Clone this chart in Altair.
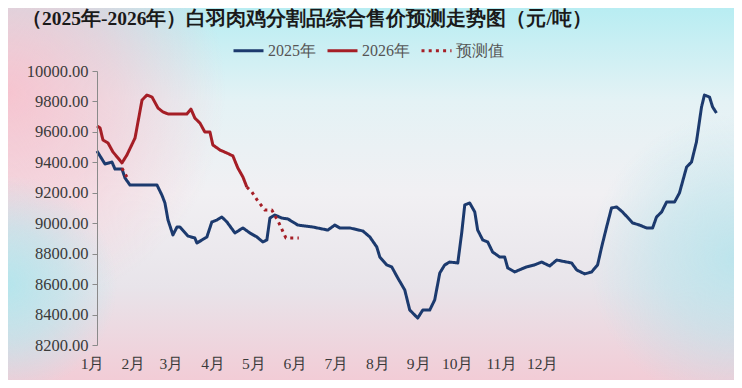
import altair as alt
import pandas as pd

# ---------------- data ----------------
days_2025 = [0, 4.7, 8.8, 10.6, 14.7, 16.5, 19.4, 35.3, 38.2, 40, 41.8, 44.7, 47.1, 48.8,
             53.5, 57.6, 58.8, 61.8, 64.7, 67.6, 70.6, 73.5, 76.5, 81.2, 85.9, 90, 94.1,
             97.6, 100, 101.8, 104.7, 108.8, 112.4, 118.2, 127.1, 135.9, 140, 142.9, 148.8,
             156.5, 160.6, 164.7, 166.5, 170.6, 173.5, 177.1, 181.2, 184.1, 188.8, 191.8,
             195.9, 198.8, 201.8, 204.7, 207.6, 212.4, 214.7, 216.5, 219.4, 222.4, 224.1,
             227.1, 230, 232.9, 237.1, 240, 241.8, 245.9, 250, 252.9, 257.6, 261.8, 266.5,
             270.6, 279.4, 282.4, 287.1, 291.2, 294.7, 297.1, 300, 302.9, 305.9, 309.4,
             315.3, 319.4, 323.5, 327.1, 329.4, 332.4, 335.3, 340, 342.9, 347.1, 350, 352.9,
             355.9, 357.6, 360.6, 362.4, 364.7]
vals_2025 = [9474, 9389, 9402, 9356, 9356, 9297, 9251, 9251, 9185, 9133, 9021, 8923, 8975, 8975,
             8916, 8903, 8870, 8890, 8910, 9008, 9021, 9041, 9008, 8936, 8969, 8936, 8910,
             8877, 8890, 9034, 9054, 9034, 9028, 8988, 8975, 8955, 8988, 8969, 8969,
             8949, 8910, 8844, 8778, 8726, 8713, 8640, 8561, 8430, 8377, 8430,
             8430, 8496, 8673, 8726, 8745, 8739, 8936, 9120, 9133, 9074, 8955,
             8890, 8877, 8811, 8778, 8778, 8706, 8680, 8700, 8713, 8726, 8745, 8719,
             8758, 8739, 8693, 8667, 8680, 8726, 8844, 8975, 9100, 9107, 9074,
             9002, 8988, 8969, 8969, 9041, 9074, 9139, 9139, 9199, 9369, 9402, 9534,
             9764, 9842, 9829, 9764, 9724]

days_2026 = [0, 1.8, 3.5, 6.5, 9.4, 12.4, 14.7, 17.6, 22.4, 26.5, 29.4, 32.4, 35.9, 38.8,
             41.8, 52.9, 55.3, 57.6, 60.6, 63.5, 66.5, 68.2, 72.4, 76.5, 80, 82.9, 85.9, 88.2]
vals_2026 = [9639, 9626, 9547, 9527, 9468, 9428, 9396, 9448, 9560, 9809, 9842, 9829, 9757, 9731,
             9718, 9718, 9750, 9691, 9658, 9599, 9599, 9514, 9481, 9461, 9442, 9363, 9304, 9238]

days_fc = [14.7, 17.6, 88.2, 91.2, 94.7, 98.8, 102.9, 107.1, 111.2, 118.8]
vals_fc = [9362, 9304, 9238, 9205, 9146, 9087, 9087, 9002, 8903, 8903]
segs_fc = ["fa", "fa", "fb", "fb", "fb", "fb", "fb", "fb", "fb", "fb"]

series_names = ["2025年", "2026年", "预测值"]
series_colors = ["#1c3a6e", "#a51e26", "#a51e26"]
series_dashes = [[1, 0], [1, 0], [3, 4.2]]

month_labels = ["1月", "2月", "3月", "4月", "5月", "6月", "7月", "8月", "9月", "10月", "11月", "12月"]
month_pos = [0, 24, 46.5, 71, 95, 119.5, 143.5, 168, 192, 215, 241, 265]
y_ticks = [8200, 8400, 8600, 8800, 9000, 9200, 9400, 9600, 9800, 10000]

title_text = "（2025年-2026年）白羽肉鸡分割品综合售价预测走势图（元/吨）"

# ---------------- build table ----------------
rows = []
for d, v in zip(days_2025, vals_2025):
    rows.append({"day": d, "price": v, "series": series_names[0], "seg": "a"})
for d, v in zip(days_2026, vals_2026):
    rows.append({"day": d, "price": v, "series": series_names[1], "seg": "b"})
for d, v, s in zip(days_fc, vals_fc, segs_fc):
    rows.append({"day": d, "price": v, "series": series_names[2], "seg": s})
df = pd.DataFrame(rows)

W, H = 620, 274
PL, PT, PR, PB = 89, 63, 17, 35
SERIF = "Liberation Serif"

bg_df = pd.DataFrame({"k": [0]})


def bg_layer(fill, opacity=1.0):
    return alt.Chart(bg_df).mark_rect(fill=fill, opacity=opacity, strokeWidth=0).encode(
        x=alt.value(-PL), x2=alt.value(W + PR), y=alt.value(-PT), y2=alt.value(H + PB)
    )


def radial(cx, cy, r, rgb, a):
    # radial gradients are laid on a square of side = rect width, centred vertically
    return bg_layer(alt.RadialGradient(
        gradient="radial", x1=cx, y1=cy, r1=0, x2=cx, y2=cy, r2=r,
        stops=[alt.GradientStop(color="rgba(%s,%s)" % (rgb, a), offset=0),
               alt.GradientStop(color="rgba(%s,%s)" % (rgb, round(a * 0.6, 3)), offset=0.5),
               alt.GradientStop(color="rgba(%s,0)" % rgb, offset=1)]))


base_bg = bg_layer(alt.LinearGradient(
    gradient="linear", x1=0, y1=0, x2=0, y2=1,
    stops=[alt.GradientStop(color="#b8edf2", offset=0),
           alt.GradientStop(color="#e4f2f5", offset=0.25),
           alt.GradientStop(color="#f1f0f3", offset=0.5),
           alt.GradientStop(color="#e8e4ea", offset=0.75),
           alt.GradientStop(color="#f2ccd6", offset=1)]))

pink_top_left = radial(0.0, 0.36, 0.3, "247,194,206", 0.95)
cyan_low_left = radial(0.0, 0.625, 0.15, "182,229,236", 1.0)
cyan_low_right = radial(1.0, 0.59, 0.2, "184,228,236", 0.9)

lines = alt.Chart(df).mark_line(strokeWidth=3, strokeJoin="round").encode(
    x=alt.X("day:Q",
            scale=alt.Scale(domain=[0, 365], nice=False, zero=False),
            axis=alt.Axis(values=month_pos,
                          labelExpr="[" + ",".join("'" + m + "'" for m in month_labels) + "]"
                                    "[indexof([" + ",".join(str(p) for p in month_pos) + "], datum.value)]",
                          domain=False, ticks=False, grid=False, title=None, zindex=1,
                          translate=-4.5, labelAlign="center", labelPadding=16,
                          labelFont=SERIF, labelFontSize=15.5, labelColor="#3a3a3a",
                          labelFlush=False)),
    y=alt.Y("price:Q",
            scale=alt.Scale(domain=[8200, 10000], nice=False, zero=False),
            axis=alt.Axis(values=y_ticks, format=".2f", grid=False, title=None, zindex=1,
                          domainColor="#8a8a8a", tickColor="#8a8a8a", tickSize=5,
                          labelPadding=4, labelFont=SERIF, labelFontSize=16.5,
                          labelColor="#3a3a3a")),
    color=alt.Color("series:N",
                    scale=alt.Scale(domain=series_names, range=series_colors),
                    legend=alt.Legend(orient="none", legendX=135, legendY=-37,
                                      direction="horizontal", title=None,
                                      symbolType="stroke", symbolSize=900,
                                      symbolStrokeWidth=3, labelFont=SERIF,
                                      labelFontSize=16, labelColor="#555555",
                                      labelOffset=3, columnPadding=5, padding=0)),
    strokeDash=alt.StrokeDash("series:N",
                              scale=alt.Scale(domain=series_names, range=series_dashes),
                              legend=None),
    detail="seg:N",
    order="day:Q",
)

chart = alt.layer(base_bg, pink_top_left, cyan_low_left, cyan_low_right, lines).properties(
    width=W, height=H,
    autosize=alt.AutoSizeParams(type="none"),
    padding={"left": PL, "top": PT, "right": PR, "bottom": PB},
    title=alt.TitleParams(title_text, anchor="start", frame="group", dx=-75, offset=0, dy=21,
                          font=SERIF, fontSize=19.5, fontWeight="bold", color="#1a1a1a"),
).configure_view(stroke=None).configure(background="#f3e6ec")

chart.save("out.html", embed_options={"renderer": "svg", "actions": False})
